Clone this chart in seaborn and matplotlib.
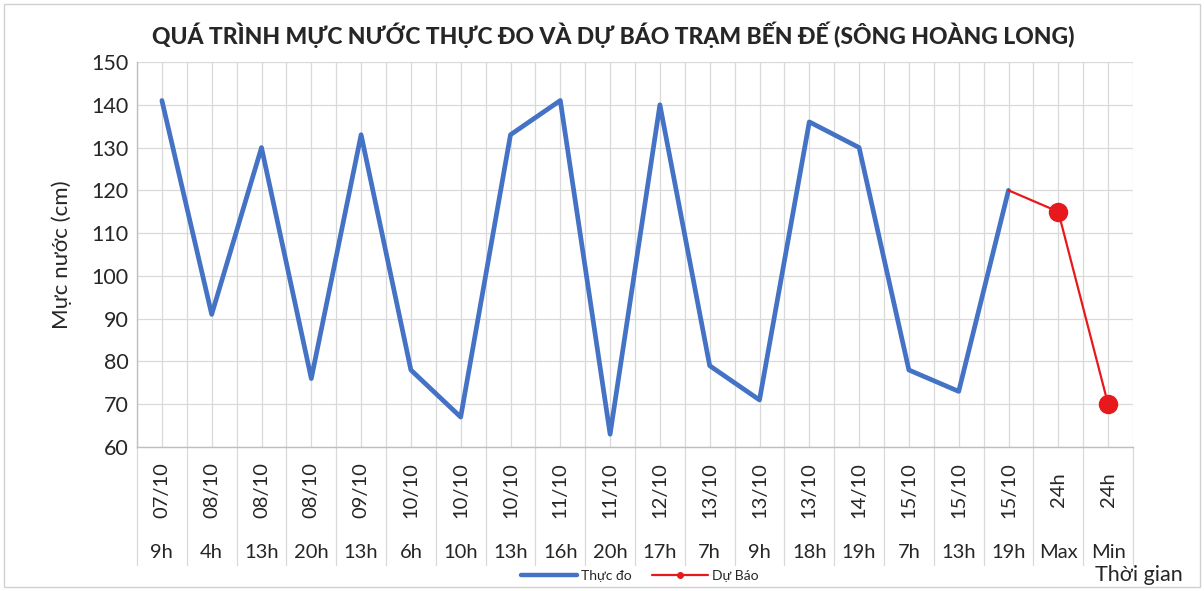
#water level chart - Ben De station (Hoang Long river)
import matplotlib
matplotlib.use("Agg")
import matplotlib.pyplot as plt
import matplotlib.transforms as mtransforms
from matplotlib.lines import Line2D
from matplotlib.patches import Rectangle
import seaborn as sns
import numpy as np
import pandas as pd

sns.set_theme(style="white")
plt.rcParams["font.family"] = ["Lato", "DejaVu Sans"]

# data
dates = ["07/10", "08/10", "08/10", "08/10", "09/10", "10/10", "10/10", "10/10", "11/10", "11/10",
         "12/10", "13/10", "13/10", "13/10", "14/10", "15/10", "15/10", "15/10", "24h", "24h"]
hours = ["9h", "4h", "13h", "20h", "13h", "6h", "10h", "13h", "16h", "20h",
         "17h", "7h", "9h", "18h", "19h", "7h", "13h", "19h", "Max", "Min"]
observed = [141, 91, 130, 76, 133, 78, 67, 133, 141, 63,
            140, 79, 71, 136, 130, 78, 73, 120]
forecast = [120, 115, 70]

n = len(hours)
df_obs = pd.DataFrame({"pos": np.arange(len(observed)), "level": observed})
df_fc = pd.DataFrame({"pos": np.arange(n - len(forecast), n), "level": forecast})

W, H = 1204, 591
fig = plt.figure(figsize=(W / 100, H / 100), dpi=100)
ax = fig.add_axes([137 / W, 1 - 447 / H, (1133 - 137) / W, (447 - 62) / H])

blue = "#4472C4"
red = "#E8191C"
grid = "#D9D9D9"

sns.lineplot(data=df_obs, x="pos", y="level", ax=ax, color=blue, linewidth=3.4)
sns.lineplot(data=df_fc, x="pos", y="level", ax=ax, color=red, linewidth=1.6)
#markers only on the forecast max/min
ax.plot(df_fc["pos"][1:], df_fc["level"][1:], linestyle="none", marker="o",
        markersize=13, color=red, zorder=5)

ax.set_xlim(-0.5, n - 0.5)
ax.set_ylim(60, 150)
ax.set_yticks(np.arange(60, 151, 10))
ax.tick_params(axis="y", labelsize=15.5, length=0, pad=6)
ax.set_xticks(np.arange(n))
ax.set_xticklabels([])
ax.tick_params(axis="x", length=0)
ax.set_xticks(np.arange(n + 1) - 0.5, minor=True)
ax.grid(True, which="major", color=grid, linewidth=0.9)
ax.grid(True, which="minor", axis="x", color=grid, linewidth=0.9)
for s in ["top", "right"]:
    ax.spines[s].set_visible(False)
for s in ["left", "bottom"]:
    ax.spines[s].set_color("#BFBFBF")
    ax.spines[s].set_linewidth(1)
ax.set_xlabel("")
ax.set_ylabel("Mực nước (cm)", fontsize=16, labelpad=14)

# two-level category labels
trans = mtransforms.blended_transform_factory(ax.transData, ax.transAxes)
axh = 447 - 62
for i in range(n):
    ax.text(i, -43 / axh, dates[i], transform=trans, rotation=90, ha="center", va="center",
            fontsize=14.5)
    ax.text(i, -105 / axh, hours[i], transform=trans, ha="center", va="center", fontsize=14.5)
for b in np.arange(n + 1) - 0.5:
    ax.plot([b, b], [0, -118 / axh], transform=trans, color=grid, linewidth=0.9, clip_on=False)

ax.set_title("QUÁ TRÌNH MỰC NƯỚC THỰC ĐO VÀ DỰ BÁO TRẠM BẾN ĐẾ (SÔNG HOÀNG LONG)",
             fontsize=16.5, fontweight="black", pad=13, x=(613 - 137) / (1133 - 137))

handles = [Line2D([], [], color=blue, linewidth=3.2),
           Line2D([], [], color=red, linewidth=1.6, marker="o", markersize=4)]
fig.legend(handles, ["Thực đo", "Dự Báo"], loc="center", bbox_to_anchor=(640 / W, 1 - 576 / H),
           ncol=2, frameon=False, fontsize=10, handlelength=4, columnspacing=1.5, handletextpad=0.3)
fig.text(1183 / W, 1 - 575 / H, "Thời gian", ha="right", va="center", fontsize=15.5)

fig.patches.append(Rectangle((4 / W, 4 / H), 1 - 8 / W, 1 - 8 / H, transform=fig.transFigure,
                             fill=False, edgecolor="#D0D0D0", linewidth=1))

fig.savefig("out.png", dpi=100)
